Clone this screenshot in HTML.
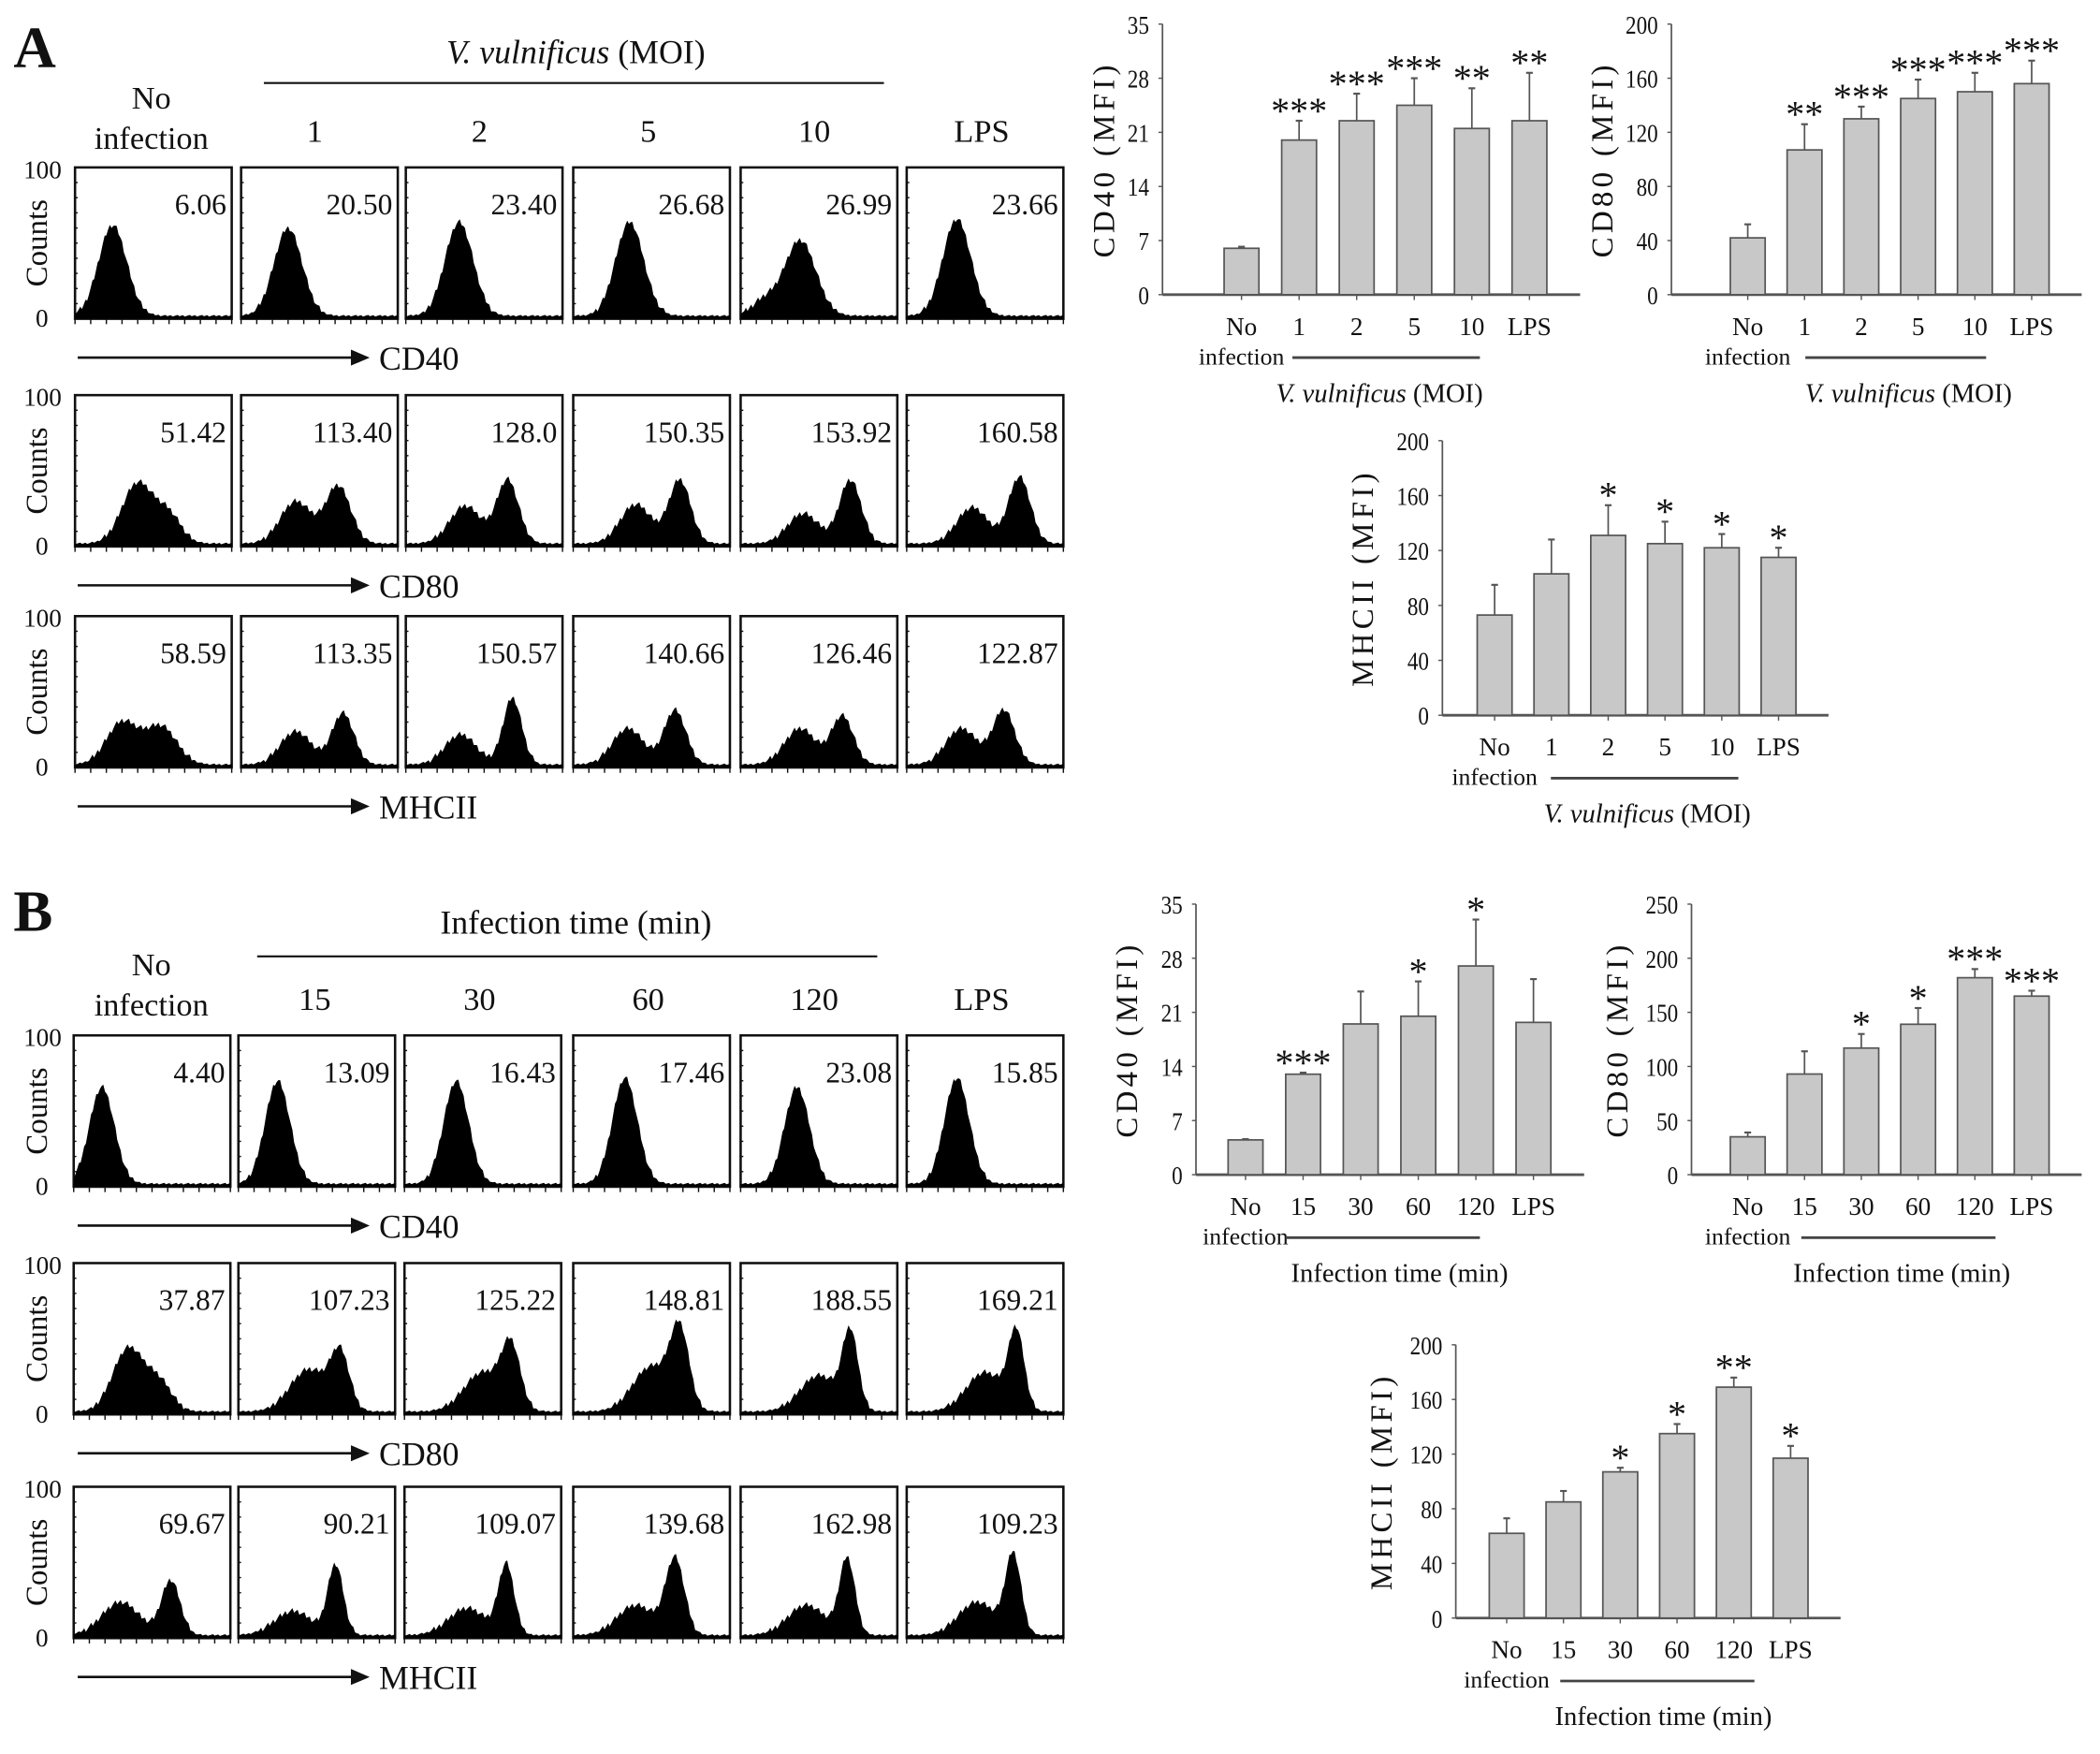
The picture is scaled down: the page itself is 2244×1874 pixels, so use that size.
<!DOCTYPE html>
<html><head><meta charset="utf-8"><style>
html,body{margin:0;padding:0;background:#fff;}
svg{display:block;font-family:"Liberation Serif",serif;}
</style></head><body>
<svg id="fig" width="2244" height="1874" viewBox="0 0 1568 1309.5" xmlns="http://www.w3.org/2000/svg"></svg>
<script>
// ---- Bar chart data ----
const catsMOI = ["No", "1", "2", "5", "10", "LPS"];
const catsTime = ["No", "15", "30", "60", "120", "LPS"];
const aCD40 = [6, 20, 22.5, 24.5, 21.5, 22.5];
const aCD40err = [6.2, 22.5, 26, 28, 26.7, 28.7];
const aCD40sig = ["", "***", "***", "***", "**", "**"];
const aCD80 = [42, 107, 130, 145, 150, 156];
const aCD80err = [52, 126, 139, 159, 164, 173];
const aCD80sig = ["", "**", "***", "***", "***", "***"];
const aMHC = [73, 103, 131, 125, 122, 115];
const aMHCerr = [95, 128, 153, 141, 132, 122];
const aMHCsig = ["", "", "*", "*", "*", "*"];
const bCD40 = [4.5, 13, 19.5, 20.5, 27, 19.7];
const bCD40err = [4.6, 13.2, 23.7, 25, 33, 25.3];
const bCD40sig = ["", "***", "", "*", "*", ""];
const bCD80 = [35, 93, 117, 139, 182, 165];
const bCD80err = [39, 114, 130, 154, 190, 170];
const bCD80sig = ["", "", "*", "*", "***", "***"];
const bMHC = [62, 85, 107, 135, 169, 117];
const bMHCerr = [73, 93, 110, 142, 176, 126];
const bMHCsig = ["", "", "*", "*", "**", "*"];
const ticks35 = [0, 7, 14, 21, 28, 35];
const ticks200 = [0, 40, 80, 120, 160, 200];
const ticks250 = [0, 50, 100, 150, 200, 250];
// ---- Histogram values (MFI labels) ----
const hA = [["6.06","20.50","23.40","26.68","26.99","23.66"],["51.42","113.40","128.0","150.35","153.92","160.58"],["58.59","113.35","150.57","140.66","126.46","122.87"]];
const hB = [["4.40","13.09","16.43","17.46","23.08","15.85"],["37.87","107.23","125.22","148.81","188.55","169.21"],["69.67","90.21","109.07","139.68","162.98","109.23"]];
// peak [pos, height, width] fractions
const pkA = [
 [[[0.24,0.6,0.09]],[[0.3,0.58,0.09]],[[0.34,0.62,0.09]],[[0.36,0.62,0.09]],[[0.38,0.5,0.1],[0.15,0.1,0.08]],[[0.32,0.64,0.09]]],
 [[[0.4,0.4,0.1],[0.6,0.18,0.08]],[[0.35,0.28,0.1],[0.62,0.38,0.08]],[[0.38,0.25,0.1],[0.65,0.42,0.07]],[[0.4,0.26,0.1],[0.68,0.42,0.07]],[[0.4,0.2,0.1],[0.7,0.42,0.07]],[[0.42,0.24,0.1],[0.72,0.44,0.07]]],
 [[[0.3,0.28,0.1],[0.55,0.25,0.1]],[[0.35,0.22,0.1],[0.65,0.34,0.07]],[[0.35,0.2,0.1],[0.68,0.44,0.06]],[[0.35,0.24,0.1],[0.65,0.36,0.07]],[[0.38,0.24,0.1],[0.65,0.32,0.07]],[[0.35,0.24,0.1],[0.62,0.36,0.07]]]];
const pkB = [
 [[[0.18,0.64,0.08]],[[0.25,0.68,0.08]],[[0.33,0.68,0.08]],[[0.33,0.7,0.08]],[[0.36,0.64,0.08]],[[0.32,0.7,0.08]]],
 [[[0.35,0.42,0.1],[0.55,0.18,0.08]],[[0.45,0.28,0.12],[0.65,0.36,0.06]],[[0.5,0.26,0.12],[0.68,0.4,0.06]],[[0.5,0.3,0.12],[0.68,0.5,0.06]],[[0.5,0.24,0.12],[0.7,0.5,0.05]],[[0.5,0.26,0.12],[0.7,0.5,0.05]]],
 [[[0.3,0.22,0.12],[0.62,0.36,0.06]],[[0.35,0.16,0.12],[0.62,0.46,0.05]],[[0.4,0.18,0.12],[0.65,0.46,0.05]],[[0.4,0.2,0.12],[0.65,0.5,0.06]],[[0.42,0.2,0.12],[0.68,0.5,0.05]],[[0.45,0.22,0.12],[0.68,0.52,0.05]]]];

const NS="http://www.w3.org/2000/svg";
const svg=document.getElementById('fig');
function mk(tag,attrs,parent){const e=document.createElementNS(NS,tag);for(const k in attrs)e.setAttribute(k,attrs[k]);(parent||svg).appendChild(e);return e;}
function txt(s,x,y,size,anchor,parent,extra){const t=mk('text',Object.assign({x:x,y:y,'font-size':size,'text-anchor':anchor||'middle',fill:'#111'},extra||{}),parent);t.textContent=s;return t;}

function barChart(name,ax,y0,yTop,max,ticks,vals,errs,sig,cats,xs0,dx,ylabel,title,italicTitle,lineFrom,lineTo,titleX,ylOff){
 const g=mk('g',{});
 
 
 const ys=v=>y0-(v/max)*(y0-yTop);
 const xs=i=>xs0+i*dx;
 mk('line',{x1:ax,y1:yTop,x2:ax,y2:y0,stroke:'#555','stroke-width':1.2},g);
 mk('line',{x1:ax,y1:y0,x2:xs(5)+dx*0.88,y2:y0,stroke:'#555','stroke-width':2},g);
 ticks.forEach(t=>{const tl=txt(String(t),ax-10,ys(t)+7,19,'end',g,{transform:'translate('+(ax-10)+',0) scale(0.85,1) translate('+(-(ax-10))+',0)'});
   mk('line',{x1:ax-3,y1:ys(t),x2:ax,y2:ys(t),stroke:'#555'},g);});
 vals.forEach((v,i)=>{
  const cx=xs(i);
  const r=mk('rect',{x:cx-13,y:ys(v),width:26,height:y0-ys(v),fill:'#c8c8c8',stroke:'#555','stroke-width':1.2},g);
  
  
  mk('line',{x1:cx,y1:ys(v),x2:cx,y2:ys(errs[i]),stroke:'#555','stroke-width':1.2},g);
  mk('line',{x1:cx-2.5,y1:ys(errs[i]),x2:cx+2.5,y2:ys(errs[i]),stroke:'#555','stroke-width':1.5},g);
  mk('line',{x1:cx,y1:y0,x2:cx,y2:y0+4,stroke:'#555'},g);
  if(sig[i]){const s=txt(sig[i],cx,ys(errs[i])+2,28,'middle',g);}
  const l=txt(cats[i],cx,y0+30,19,'middle',g);
 });
 txt('infection',xs(0),y0+52,18,'middle',g);
 mk('line',{x1:lineFrom,y1:y0+47,x2:lineTo,y2:y0+47,stroke:'#444','stroke-width':2},g);
 const tt=mk('text',{x:titleX,y:y0+80,'font-size':20,'text-anchor':'middle',fill:'#111'},g);
 
 
 if(italicTitle){const a=mk('tspan',{'font-style':'italic'},tt);a.textContent='V. vulnificus';const b=mk('tspan',{},tt);b.textContent=' (MOI)';}
 else tt.textContent=title;
 const yl=txt(ylabel,0,0,23,'middle',g,{transform:'translate('+(ax-ylOff)+','+((y0+yTop)/2)+') rotate(-90)','letter-spacing':'3'});
 
 
}

barChart('chart-a-cd40',868,220,18,35,ticks35,aCD40,aCD40err,aCD40sig,catsMOI,927,43,'CD40 (MFI)','',true,965,1105,1030,36);
barChart('chart-a-cd80',1248,220,18,200,ticks200,aCD80,aCD80err,aCD80sig,catsMOI,1305,42.4,'CD80 (MFI)','',true,1348,1483,1425,44);
barChart('chart-a-mhcii',1077,534,329,200,ticks200,aMHC,aMHCerr,aMHCsig,catsMOI,1116,42.4,'MHCII (MFI)','',true,1158,1298,1230,52);
barChart('chart-b-cd40',893,877,675,35,ticks35,bCD40,bCD40err,bCD40sig,catsTime,930,43,'CD40 (MFI)','Infection time (min)',false,960,1105,1045,44);
barChart('chart-b-cd80',1263,877,675,250,ticks250,bCD80,bCD80err,bCD80sig,catsTime,1305,42.4,'CD80 (MFI)','Infection time (min)',false,1345,1490,1420,48);
barChart('chart-b-mhcii',1087,1208,1004,200,ticks200,bMHC,bMHCerr,bMHCsig,catsTime,1125,42.4,'MHCII (MFI)','Infection time (min)',false,1165,1310,1242,48);

// ---- Histogram panels ----
function histPanel(name,labels,peaks,boxXs,rowYs){
 const g=mk('g',{});
 
 
 const markers=['CD40','CD80','MHCII'];
 rowYs.forEach((y,r)=>{
  const h=113;
  txt('100',46,y+8,19,'end',g);txt('0',36,y+h+6,19,'end',g);
  const c=txt('Counts',0,0,23,'middle',g,{transform:'translate('+35+','+(y+h/2)+') rotate(-90)'});
  
  boxXs.forEach((x,i)=>{
   const w=117;
   const box=mk('rect',{x:x,y:y,width:w,height:h,fill:'#fff',stroke:'#111','stroke-width':1.8},g);
   
   
   for(let k=0;k<=10;k++){mk('line',{x1:x,y1:y+h*k/10,x2:x+2,y2:y+h*k/10,stroke:'#111'},g);
     mk('line',{x1:x+w*k/10,y1:y+h,x2:x+w*k/10,y2:y+h+4,stroke:'#111'},g);}
   let d='M'+x+','+(y+h);
   const N=90;
   for(let k=0;k<=N;k++){const f=k/N;let v=0.02;
     peaks[r][i].forEach(p=>{v+=p[1]*Math.exp(-Math.pow((f-p[0])/p[2],2)/2);});
     const jit=((k*37)%7-3)*0.006*(v>0.05?1:0.3);
     d+=' L'+(x+f*w).toFixed(1)+','+(y+h-Math.max(0,v+jit)*h).toFixed(1);}
   d+=' L'+(x+w)+','+(y+h)+' Z';
   mk('path',{d:d,fill:'#000'},g);
   const t=txt(labels[r][i],x+w-4,y+35,22,'end',g);
   
  });
  const ay=y+h+29;
  mk('line',{x1:58,y1:ay,x2:265,y2:ay,stroke:'#111','stroke-width':1.8},g);
  mk('polygon',{points:'262,'+(ay-6)+' 276,'+ay+' 262,'+(ay+6),fill:'#111'},g);
  txt(markers[r],283,ay+9,25,'start',g);
 });
}
histPanel('panel-a-histograms',hA,pkA,[56,180,303,428,553,677],[125,295,460]);
histPanel('panel-b-histograms',hB,pkB,[55,178,302,428,553,677],[773,943,1110]);

// headers
function header(letter,ly,title,italic,ty,lineY,l1,l2,cats,cy,noY){
 const L=txt(letter,10,ly,44,'start',svg,{'font-weight':'bold'});
 
 const t=mk('text',{x:430,y:ty,'font-size':25,'text-anchor':'middle',fill:'#111'});
 
 if(italic){const a=mk('tspan',{'font-style':'italic'},t);a.textContent='V. vulnificus';const b=mk('tspan',{},t);b.textContent=' (MOI)';}else t.textContent=title;
 mk('line',{x1:l1,y1:lineY,x2:l2,y2:lineY,stroke:'#111','stroke-width':1.5});
 txt('No',113,noY,24,'middle');txt('infection',113,noY+30,24,'middle');
 const xs=[235,358,484,608,733];
 cats.forEach((c,i)=>txt(c,xs[i],cy,24,'middle'));
}
header('A',50,'',true,47,62,197,660,['1','2','5','10','LPS'],106,81);
header('B',695,'Infection time (min)',false,697,714,192,655,['15','30','60','120','LPS'],754,728);
</script>
</body></html>
